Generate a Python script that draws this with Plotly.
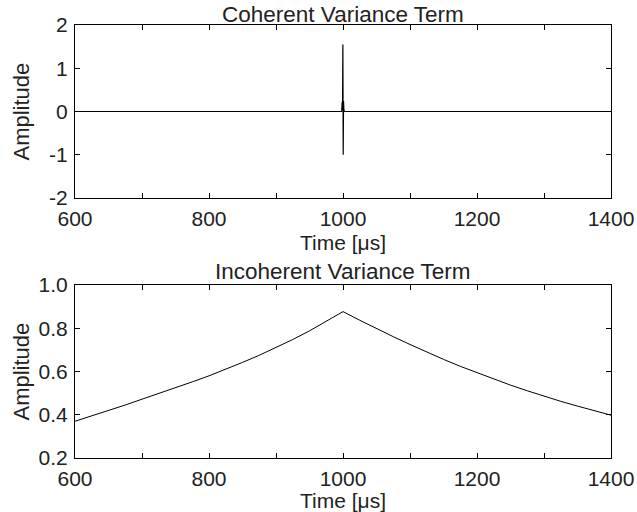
import plotly.graph_objects as go

# Coherent variance term (mostly zero, spike near 1000 µs)
coh_time = [600, 998.0, 998.8, 999.3, 999.8, 1000.3, 1000.8, 1001.3, 1002.0, 1400]
coh_amp = [0.0, 0.0, 0.22, 0.05, 1.55, -1.0, 0.24, 0.05, 0.0, 0.0]

# Incoherent variance term
inc_time = [600, 625, 650, 675, 700, 725, 750, 775, 800, 825, 850, 875, 900, 925, 950, 975,
            1000, 1025, 1050, 1075, 1100, 1125, 1150, 1175, 1200, 1225, 1250, 1275,
            1300, 1325, 1350, 1375, 1400]
inc_amp = [0.370, 0.394, 0.419, 0.445, 0.472, 0.498, 0.525, 0.552, 0.580, 0.610, 0.642,
           0.675, 0.710, 0.748, 0.788, 0.831, 0.877, 0.837, 0.798, 0.761, 0.725, 0.690,
           0.656, 0.624, 0.594, 0.565, 0.537, 0.511, 0.486, 0.462, 0.440, 0.418, 0.398]

x_ticks = [600, 700, 800, 900, 1000, 1100, 1200, 1300, 1400]
x_text = ["600", "", "800", "", "1000", "", "1200", "", "1400"]
y1_ticks = [-2, -1, 0, 1, 2]
y1_text = ["-2", "-1", "0", "1", "2"]
y2_ticks = [0.2, 0.4, 0.6, 0.8, 1.0]
y2_text = ["0.2", "0.4", "0.6", "0.8", "1.0"]

FONT = "Liberation Sans, Arial, Helvetica, sans-serif"
W, H = 637, 512
xl, xr = 75, 611
top1, bot1 = 25, 198
top2, bot2 = 285, 458

def py(p):
    return 1 - p / H

fig = go.Figure()
fig.add_trace(go.Scatter(x=coh_time, y=coh_amp, mode="lines",
                         line=dict(color="black", width=1.2), xaxis="x", yaxis="y",
                         showlegend=False, hoverinfo="skip"))
fig.add_trace(go.Scatter(x=inc_time, y=inc_amp, mode="lines",
                         line=dict(color="black", width=1), xaxis="x2", yaxis="y2",
                         showlegend=False, hoverinfo="skip"))

axis_common = dict(showline=True, linecolor="black", linewidth=1, mirror="ticks",
                   ticks="inside", ticklen=5, tickcolor="black", showgrid=False,
                   zeroline=False, automargin=False,
                   tickfont=dict(family=FONT, size=21, color="#222"))

fig.update_layout(
    width=W, height=H,
    margin=dict(l=0, r=0, t=0, b=0, autoexpand=False),
    paper_bgcolor="white", plot_bgcolor="white",
    xaxis=dict(domain=[xl / W, xr / W], range=[600, 1400], tickvals=x_ticks,
               ticktext=x_text, anchor="y", ticklabelstandoff=2, **axis_common),
    yaxis=dict(domain=[py(bot1), py(top1)], range=[-2, 2], tickvals=y1_ticks,
               ticktext=y1_text, anchor="x", ticklabelstandoff=2, **axis_common),
    xaxis2=dict(domain=[xl / W, xr / W], range=[600, 1400], tickvals=x_ticks,
                ticktext=x_text, anchor="y2", ticklabelstandoff=2, **axis_common),
    yaxis2=dict(domain=[py(bot2), py(top2)], range=[0.2, 1.0], tickvals=y2_ticks,
                ticktext=y2_text, anchor="x2", ticklabelstandoff=2, **axis_common),
)

def ann(text, x, y, size=22, angle=0):
    fig.add_annotation(text=text, x=x / W, y=py(y), xref="paper", yref="paper",
                       showarrow=False, textangle=angle, xanchor="center", yanchor="middle",
                       font=dict(family=FONT, size=size, color="#222"))

ann("Coherent Variance Term", 343, 14, size=22.5)
ann("Incoherent Variance Term", 343, 271, size=22.5)
ann("Time [μs]", 343, 242, size=21)
ann("Time [μs]", 343, 500, size=21)
ann("Amplitude", 21, (top1 + bot1) / 2, angle=-90)
ann("Amplitude", 21, (top2 + bot2) / 2, angle=-90)

fig.write_html("out.html")
